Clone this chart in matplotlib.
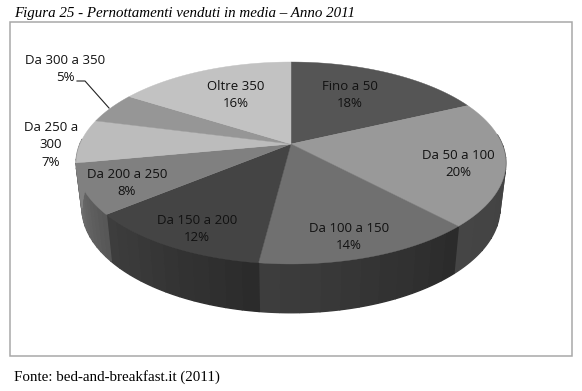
import matplotlib
matplotlib.use('Agg')
import matplotlib.pyplot as plt
from matplotlib.patches import Polygon, Rectangle
import numpy as np

labels = ['Fino a 50\n18%', 'Da 50 a 100\n20%', 'Da 100 a 150\n14%', 'Da 150 a 200\n12%',
          'Da 200 a 250\n8%', 'Da 250 a\n300\n7%', 'Da 300 a 350\n5%', 'Oltre 350\n16%']
shares = [18, 20, 14, 12, 8, 7, 5, 16]
topColors = ['#555555', '#999999', '#707070', '#444444', '#808080', '#bcbcbc', '#969696', '#c2c2c2']
sideStart = [0.22, 0.25, 0.17, 0.17, 0.34, 0.5, 0.5, 0.6]   # grey at the clockwise start of the slice
sideEnd = [0.22, 0.27, 0.24, 0.24, 0.44, 0.5, 0.5, 0.6]
labelX = [350, 458, 349, 197, 127, 51, 65, 236]
labelY = [95, 164, 237, 229, 183, 145, 69, 95]

# perspective ellipse, fitted in pixels
cx, cy = 291, 144
a, b, k = 211, 97.4, 0.188
depth, sideX, sideY = 44, 0.973, 1.04

def topPoints(theta):
    u, v = np.sin(theta), np.cos(theta)
    s = 1 / (1 + k * v)
    return cx + a * u * s, cy - b * v * s

def sidePoints(theta):
    x, y = topPoints(theta)
    return cx + (x - cx) * sideX, cy + depth + (y - cy) * sideY

fig = plt.figure(figsize=(5.82, 3.91), dpi=100)
ax = fig.add_axes([0, 0, 1, 1])
ax.set_xlim(0, 582)
ax.set_ylim(391, 0)
ax.axis('off')

ax.add_patch(Rectangle((9.5, 21.5), 562.5, 334.5, facecolor='white', edgecolor='#a8a8a8', linewidth=1.1))

edges = np.cumsum([0] + shares) / sum(shares) * 2 * np.pi

# side wall, only the part of each slice facing the viewer
for i in range(len(shares)):
    thetas = np.linspace(edges[i], edges[i + 1], 12)
    for j in range(len(thetas) - 1):
        mid = (thetas[j] + thetas[j + 1]) / 2
        if np.cos(mid) > 0.05:
            continue
        strip = np.linspace(thetas[j], thetas[j + 1], 8)
        x0, y0 = topPoints(strip)
        x1, y1 = sidePoints(strip)
        grey = sideStart[i] + (sideEnd[i] - sideStart[i]) * j / (len(thetas) - 2)
        c = (grey, grey, grey)
        ax.add_patch(Polygon(np.column_stack([np.r_[x0, x1[::-1]], np.r_[y0, y1[::-1]]]),
                             facecolor=c, edgecolor=c, linewidth=1.0))

# top face
for i in range(len(shares)):
    thetas = np.linspace(edges[i], edges[i + 1], 60)
    x, y = topPoints(thetas)
    ax.add_patch(Polygon(np.column_stack([np.r_[cx, x], np.r_[cy, y]]),
                         facecolor=topColors[i], edgecolor=topColors[i], linewidth=0.3))

for i in range(len(labels)):
    ax.text(labelX[i], labelY[i], labels[i], ha='center', va='center', fontsize=9.5,
            family='Open Sans', color='#111111', linespacing=1.42)

ax.plot([77, 85, 109], [81, 81, 108], color='#222222', linewidth=0.8)

ax.text(14, 13, 'Figura 25 - Pernottamenti venduti in media – Anno 2011', ha='left', va='center',
        fontsize=10.8, family='Liberation Serif', style='italic', color='black')
ax.text(14, 377, 'Fonte: bed-and-breakfast.it (2011)', ha='left', va='center',
        fontsize=10.8, family='Liberation Serif', color='black')

fig.savefig('out.png', dpi=100)
